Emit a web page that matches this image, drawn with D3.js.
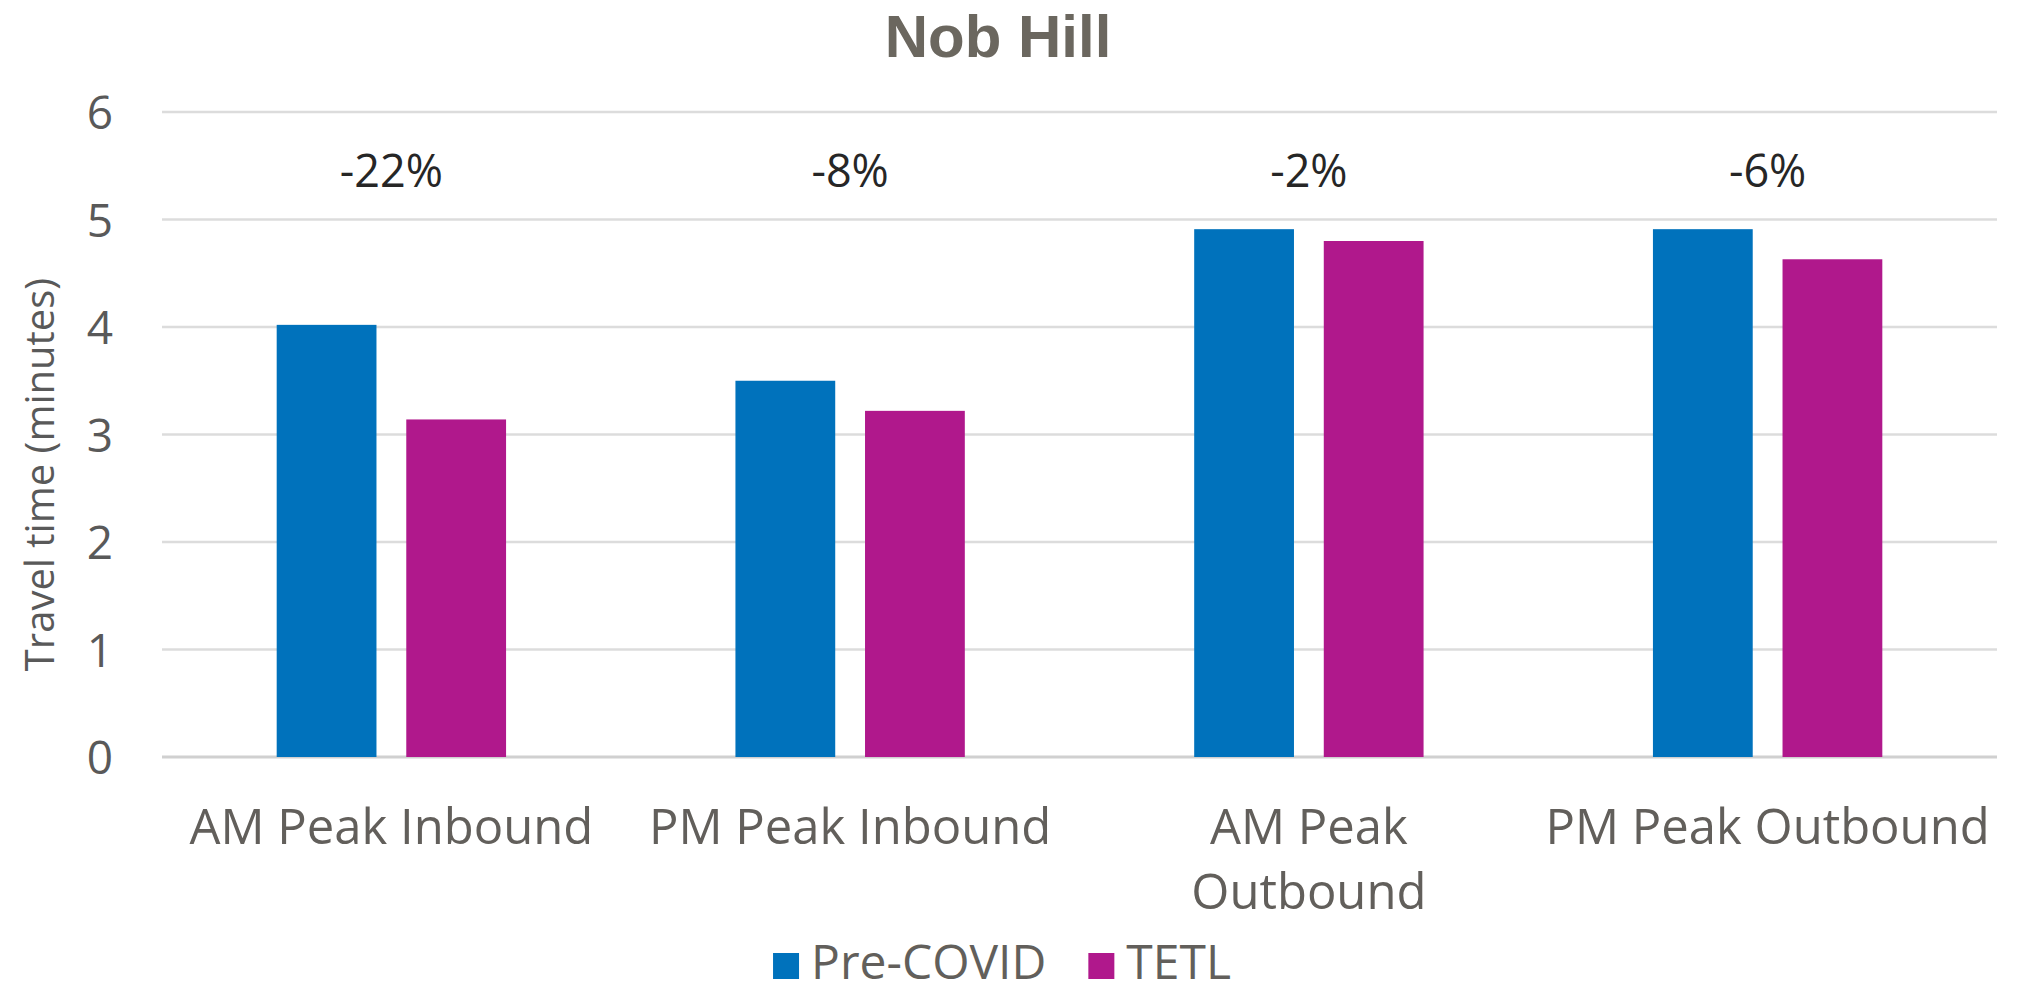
<!DOCTYPE html>
<html>
<head>
<meta charset="utf-8">
<script src="https://cdn.jsdelivr.net/npm/d3@7"></script>
<style>
  html, body { margin: 0; padding: 0; background: #ffffff; }
  svg { display: block; }
</style>
</head>
<body>
<svg id="chart" width="2034" height="994"></svg>
<script>
// ---- data ----
const title = "Nob Hill";
const categories = ["AM Peak Inbound", "PM Peak Inbound", "AM Peak Outbound", "PM Peak Outbound"];
const categoryLines = [["AM Peak Inbound"], ["PM Peak Inbound"], ["AM Peak", "Outbound"], ["PM Peak Outbound"]];
const seriesNames = ["Pre-COVID", "TETL"];
const preCovid = [4.02, 3.50, 4.91, 4.91];
const tetl = [3.14, 3.22, 4.80, 4.63];
const changeLabels = ["-22%", "-8%", "-2%", "-6%"];
const yTicks = [0, 1, 2, 3, 4, 5, 6];
const yTitle = "Travel time (minutes)";
const colors = ["#0072bc", "#b0188c"];

// ---- layout ----
const W = 2034, H = 994;
const plot = { left: 162, right: 1997, top: 112, bottom: 757 };
const svg = d3.select("#chart");

const x0 = d3.scaleBand().domain(categories).range([plot.left, plot.right]).paddingInner(0).paddingOuter(0);
const pairW = x0.bandwidth() * 0.5;
const x1 = d3.scaleBand().domain(seriesNames).range([0, pairW]).paddingInner(0.23).paddingOuter(0);
const y = d3.scaleLinear().domain([0, 6]).range([plot.bottom, plot.top]);

const font = "'Open Sans', 'Noto Sans', sans-serif";

// gridlines
svg.append("g")
  .selectAll("line").data(yTicks).join("line")
  .attr("x1", plot.left).attr("x2", plot.right)
  .attr("y1", d => y(d)).attr("y2", d => y(d))
  .attr("stroke", d => d === 0 ? "#d0d0d0" : "#dcdcdc")
  .attr("stroke-width", d => d === 0 ? 3 : 2.5);

// y axis (labels only)
const yAxis = d3.axisLeft(y).tickValues(yTicks).tickSize(0).tickPadding(0).tickFormat(d3.format("d"));
const gy = svg.append("g").attr("transform", `translate(${plot.left - 49},0)`).call(yAxis);
gy.select(".domain").remove();
gy.selectAll("text")
  .attr("font-family", font).attr("font-size", 46).attr("fill", "#595959")
  .attr("dy", "0.36em");

// y title
svg.append("text")
  .attr("transform", `translate(54, ${(plot.top + plot.bottom) / 2 + 40}) rotate(-90)`)
  .attr("text-anchor", "middle")
  .attr("font-family", font).attr("font-size", 40).attr("fill", "#595959")
  .text(yTitle);

// bars
const rows = categories.map((c, i) => ({ cat: c, vals: [preCovid[i], tetl[i]] }));
const groups = svg.append("g").selectAll("g").data(rows).join("g")
  .attr("transform", d => `translate(${x0(d.cat) + (x0.bandwidth() - pairW) / 2},0)`);
groups.selectAll("rect")
  .data(d => d.vals.map((v, j) => ({ name: seriesNames[j], v, j })))
  .join("rect")
  .attr("x", d => x1(d.name))
  .attr("width", x1.bandwidth())
  .attr("y", d => y(d.v))
  .attr("height", d => y(0) - y(d.v))
  .attr("fill", d => colors[d.j]);

// change labels
svg.append("g").selectAll("text").data(categories).join("text")
  .attr("x", d => x0(d) + x0.bandwidth() / 2)
  .attr("y", 187)
  .attr("text-anchor", "middle")
  .attr("font-family", font).attr("font-size", 45).attr("fill", "#262626")
  .text((d, i) => changeLabels[i]);

// x labels
const xl = svg.append("g").selectAll("text").data(categories).join("text")
  .attr("x", d => x0(d) + x0.bandwidth() / 2)
  .attr("y", 844)
  .attr("text-anchor", "middle")
  .attr("font-family", font).attr("font-size", 49).attr("fill", "#625f5b");
xl.selectAll("tspan").data((d, i) => categoryLines[i]).join("tspan")
  .attr("x", function () { return d3.select(this.parentNode).attr("x"); })
  .attr("dy", (d, k) => k === 0 ? 0 : 65)
  .text(d => d);

// title
svg.append("text")
  .attr("x", 998).attr("y", 57)
  .attr("text-anchor", "middle")
  .attr("font-family", "'Liberation Sans', Arial, sans-serif")
  .attr("font-weight", "bold").attr("font-size", 60).attr("fill", "#6b675f")
  .text(title);

// legend
const leg = svg.append("g");
const sq = 26, gapT = 12, gapItem = 42;
let lx = 0;
seriesNames.forEach((n, j) => {
  const g = leg.append("g").attr("transform", `translate(${lx},0)`);
  g.append("rect").attr("x", 0).attr("y", 953).attr("width", sq).attr("height", sq).attr("fill", colors[j]);
  const t = g.append("text").attr("x", sq + gapT).attr("y", 979)
    .attr("font-family", font).attr("font-size", 48).attr("fill", "#625f5b").text(n);
  const tw = t.node().getComputedTextLength();
  lx += sq + gapT + tw + gapItem;
});
const totalW = lx - gapItem;
leg.attr("transform", `translate(${1002 - totalW / 2},0)`);
</script>
</body>
</html>
